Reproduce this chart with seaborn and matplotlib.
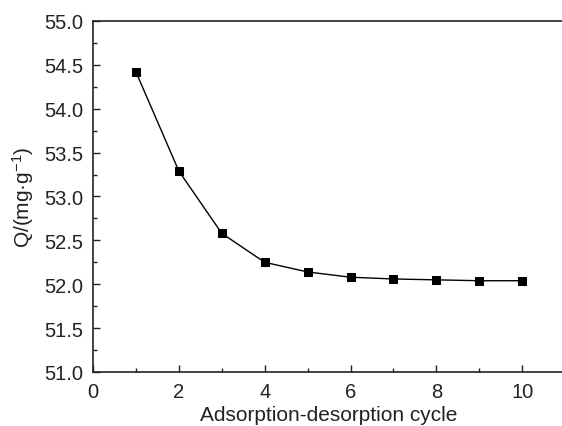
import numpy as np
import pandas as pd
import matplotlib
matplotlib.use("Agg")
import matplotlib.pyplot as plt
import seaborn as sns
from matplotlib.ticker import MultipleLocator, FormatStrFormatter

# === Data ===
cycles = [1, 2, 3, 4, 5, 6, 7, 8, 9, 10]
capacity = [54.42, 53.29, 52.58, 52.25, 52.14, 52.08, 52.06, 52.05, 52.04, 52.04]

df = pd.DataFrame({"cycle": cycles, "Q": capacity})

sns.set_style("ticks")
plt.rcParams["font.family"] = ["Liberation Sans", "DejaVu Sans"]
plt.rcParams["mathtext.fontset"] = "custom"
plt.rcParams["mathtext.rm"] = "Liberation Sans"
plt.rcParams["mathtext.it"] = "Liberation Sans"
plt.rcParams["mathtext.default"] = "regular"

fig = plt.figure(figsize=(5.62, 4.27), dpi=100)
# right spine sits just past the image edge in the reference
ax = fig.add_axes([0.1655, 0.1265, 0.84, 0.822])

sns.lineplot(data=df, x="cycle", y="Q", ax=ax, color="black", linewidth=1.0,
             marker="s", markersize=5.5, markeredgecolor="black",
             markerfacecolor="black")

ax.set_xlim(0, 11)
ax.set_ylim(51.0, 55.0)
ax.xaxis.set_major_locator(MultipleLocator(2))
ax.xaxis.set_minor_locator(MultipleLocator(1))
ax.yaxis.set_major_locator(MultipleLocator(0.5))
ax.yaxis.set_minor_locator(MultipleLocator(0.25))
ax.yaxis.set_major_formatter(FormatStrFormatter("%.1f"))
ax.tick_params(which="major", direction="in", length=5, width=1.0,
               labelsize=14.5, colors="#222222", pad=7)
ax.tick_params(which="minor", direction="in", length=3, width=1.0, colors="#222222")
ax.tick_params(top=False, right=False)

for side in ["left", "bottom", "top", "right"]:
    ax.spines[side].set_visible(True)
    ax.spines[side].set_linewidth(1.2)
    ax.spines[side].set_color("#222222")

ax.set_xlabel("Adsorption-desorption cycle", fontsize=15, labelpad=3, color="#222222")
ax.set_ylabel(r"Q/(mg·g$^{-1}$)", fontsize=15, labelpad=6, color="#222222")

fig.savefig("out.png", dpi=100)
